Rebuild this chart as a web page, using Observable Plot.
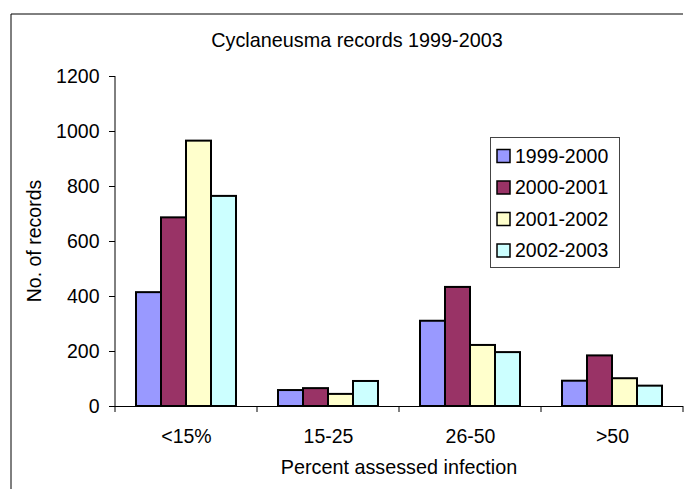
<!DOCTYPE html>
<html><head><meta charset="utf-8">
<script src="https://cdn.jsdelivr.net/npm/d3@7"></script>
<script src="https://cdn.jsdelivr.net/npm/@observablehq/plot@0.6"></script>
<style>
body{margin:0;background:#fff;}
#chart{position:relative;width:693px;height:489px;overflow:hidden;}
</style></head><body><div id="chart"></div>
<script>
const categories = ["<15%", "15-25", "26-50", ">50"];
const seriesNames = ["1999-2000", "2000-2001", "2001-2002", "2002-2003"];
const v19992000 = [414, 58, 310, 92];
const v20002001 = [686, 65, 433, 184];
const v20012002 = [965, 44, 222, 101];
const v20022003 = [764, 91, 196, 74];
const colors = ["#9999FF", "#993366", "#FFFFCC", "#CCFFFF"];
const yTicks = [0, 200, 400, 600, 800, 1000, 1200];
const titleText = "Cyclaneusma records 1999-2003";
const xTitle = "Percent assessed infection";
const yTitle = "No. of records";

const seriesValues = [v19992000, v20002001, v20012002, v20022003];
const data = categories.flatMap((c, i) =>
  seriesNames.map((s, j) => ({category: c, series: s, value: seriesValues[j][i]})));

const font = "Arial, 'Liberation Sans', sans-serif";
const W = 693, H = 489;
const plot = Plot.plot({
  width: W, height: H,
  marginLeft: 114, marginRight: 9, marginTop: 76, marginBottom: 83,
  style: {fontFamily: font, fontSize: "19.5px", color: "#000", background: "#fff", overflow: "visible"},
  fx: {domain: categories, padding: 0, label: null},
  x: {domain: seriesNames, paddingInner: 0, paddingOuter: 0.74, axis: null},
  y: {domain: [0, 1200], label: null},
  color: {domain: seriesNames, range: colors},
  marks: [
    Plot.axisY({ticks: yTicks, tickSize: 6, tickPadding: 10, tickFormat: d3.format("d"), label: null, stroke: "#000"}),
    Plot.axisFx({anchor: "bottom", tickSize: 0, tickPadding: 23, label: null}),
    Plot.barY(data, {fx: "category", x: "series", y: "value", fill: "series", stroke: "#000", strokeWidth: 2}),
    Plot.ruleY([0], {stroke: "#000", strokeWidth: 1})
  ]
});
document.getElementById("chart").appendChild(plot);

const svg = d3.select(plot);
const fx = plot.scale("fx");
const ys = plot.scale("y");
const y0 = ys.apply(0), yTop = ys.apply(1200);
const xLeft = fx.apply(categories[0]);
const bounds = categories.map(c => fx.apply(c)).concat([fx.apply(categories[categories.length - 1]) + fx.bandwidth]);
const g = svg.append("g");
// outer chart border (top and left visible)
g.append("path").attr("d", `M11,${H + 2}V14H683`).attr("fill", "none").attr("stroke", "#000").attr("stroke-width", 1);
// y axis line
g.append("line").attr("x1", xLeft).attr("x2", xLeft).attr("y1", yTop).attr("y2", y0).attr("stroke", "#000");
// category boundary ticks
g.selectAll(".bt").data(bounds).join("line")
  .attr("x1", d => d).attr("x2", d => d).attr("y1", y0).attr("y2", y0 + 6).attr("stroke", "#000");
// title
g.append("text").attr("x", 357).attr("y", 40).attr("dy", "0.35em").attr("text-anchor", "middle")
  .attr("font-size", "19.8px").text(titleText);
// x title
g.append("text").attr("x", (bounds[0] + bounds[bounds.length - 1]) / 2).attr("y", 467).attr("dy", "0.35em")
  .attr("text-anchor", "middle").attr("font-size", "19.8px").text(xTitle);
// y title
g.append("text").attr("transform", `translate(34,${(y0 + yTop) / 2}) rotate(-90)`).attr("dy", "0.35em")
  .attr("text-anchor", "middle").attr("font-size", "19.5px").text(yTitle);
// legend
const lg = g.append("g");
lg.append("rect").attr("x", 490.5).attr("y", 137.5).attr("width", 129).attr("height", 130)
  .attr("fill", "#fff").attr("stroke", "#444").attr("stroke-width", 1);
const rows = lg.selectAll(".lr").data(seriesNames).join("g")
  .attr("transform", (d, i) => `translate(0,${156 + i * 31.5})`);
rows.append("rect").attr("x", 497).attr("y", -6.5).attr("width", 13).attr("height", 13)
  .attr("fill", (d, i) => colors[i]).attr("stroke", "#000").attr("stroke-width", 1.5);
rows.append("text").attr("x", 515).attr("dy", "0.35em").attr("text-anchor", "start")
  .attr("font-size", "19.5px").text(d => d);
</script></body></html>
